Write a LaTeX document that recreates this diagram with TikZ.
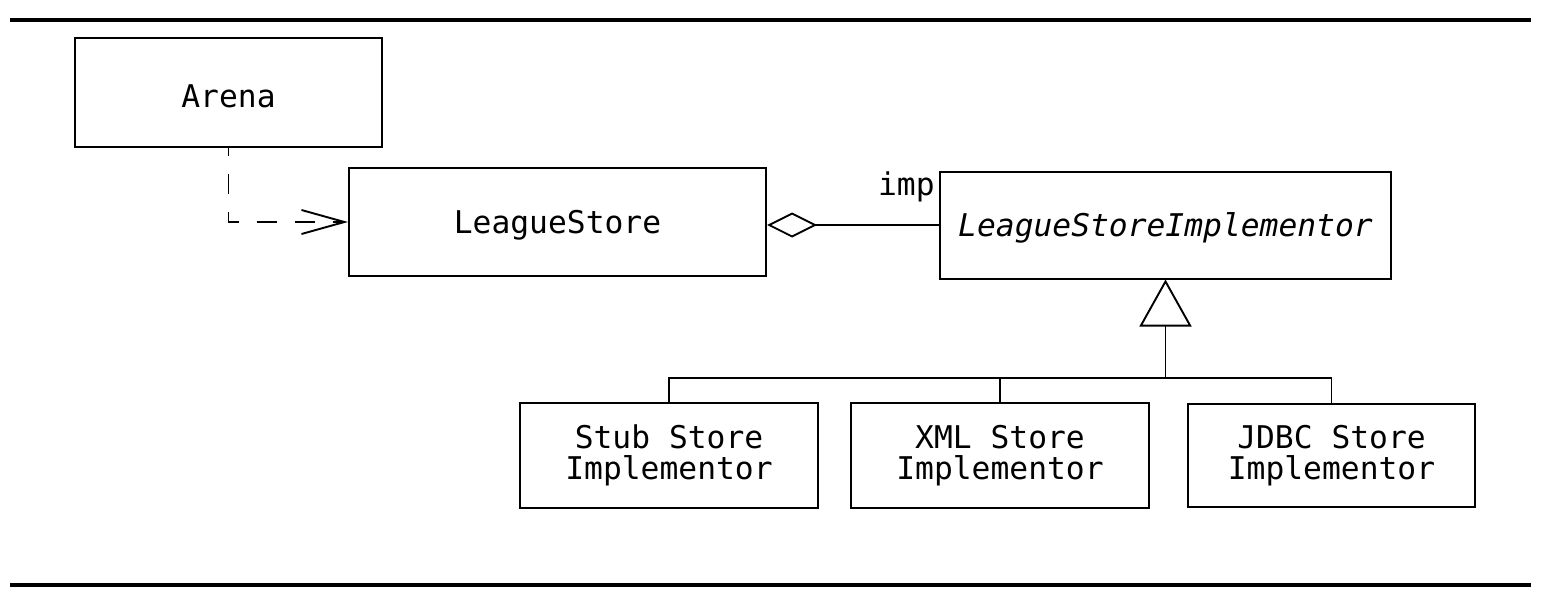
\documentclass[tikz,border=0pt]{standalone}
\usepackage{fontspec}
\setmonofont{DejaVu Sans Mono}
\usetikzlibrary{arrows.meta}
\begin{document}
\begin{tikzpicture}[x=0.5pt,y=-0.5pt,
  umlfont/.style={font=\ttfamily\fontsize{15.65pt}{15.5pt}\selectfont},
  box/.style={draw, line width=1pt, inner sep=0pt, umlfont, text height=11.4pt, text depth=0pt},
  box2/.style={draw, line width=1pt, inner sep=0pt, umlfont, align=center},
  conn/.style={line width=0.95pt},
  dep/.style={conn, dash pattern=on 10pt off 9pt, dash phase=6pt, -{Straight Barb[length=21.5pt,width=12pt]}},
  agg/.style={conn, -{Diamond[open,length=25pt,width=12.5pt]}},
  inh/.style={conn, -{Triangle[open,length=23.5pt,width=26pt]}},
  rule/.style={line width=2pt}]
\useasboundingbox (0,0) rectangle (1546,600);
\draw[rule] (10,19.5) -- (1531,19.5);
\draw[rule] (10,585.3) -- (1531,585.3);

\node[box, minimum width=153.5pt, minimum height=54.5pt] (arena) at (228.5,92.5) {\raisebox{-2pt}{Arena}};
\node[box, minimum width=208.5pt, minimum height=54pt] (ls) at (557.5,222) {LeagueStore};
\node[box, minimum width=225.5pt, minimum height=53.5pt] (impl) at (1165.5,225) {\itshape LeagueStoreImplementor};
\node[umlfont, anchor=base east, inner sep=0pt] (imp) at (935,195) {imp};

\node[box2, minimum width=149pt, minimum height=52.5pt] (stub) at (669,455.5) {Stub Store\\Implementor};
\node[box2, minimum width=149pt, minimum height=52.5pt] (xml) at (1000,455.5) {XML Store\\Implementor};
\node[box2, minimum width=143.5pt, minimum height=51.5pt] (jdbc) at (1331.5,455.5) {JDBC Store\\Implementor};

\draw[dep] (arena.south) |- (ls.west);
\draw[agg] (impl.west) -- (impl.west -| ls.east);
\coordinate (bus) at (1165.5,378);
\draw[inh] (bus) -- (impl.south);
\draw[conn] (stub.north) |- (bus) -| (jdbc.north);
\draw[conn] (xml.north) -- (xml.north |- bus);
\end{tikzpicture}
\end{document}
